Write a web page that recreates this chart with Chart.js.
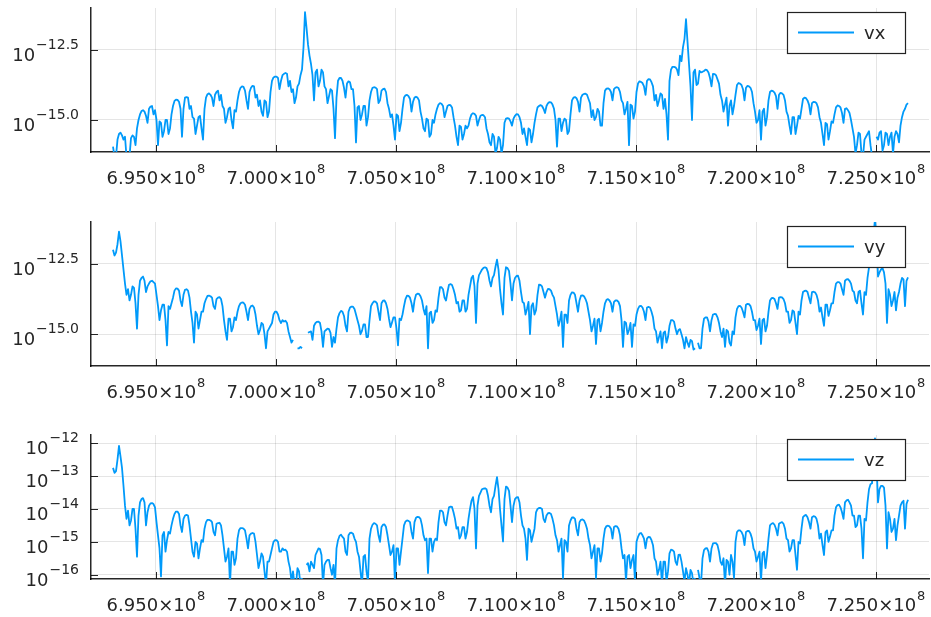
<!DOCTYPE html>
<html><head><meta charset="utf-8">
<script src="https://cdn.jsdelivr.net/npm/chart.js@4.4.1/dist/chart.umd.min.js"></script>
<style>
html,body{margin:0;padding:0;background:#fff;width:931px;height:617px;overflow:hidden;}
canvas{position:absolute;left:0;}
</style></head><body>
<canvas id="p1" width="931" height="190" style="top:0px"></canvas>
<canvas id="p2" width="931" height="190" style="top:214px"></canvas>
<canvas id="p3" width="931" height="190" style="top:427px"></canvas>
<script>
// time axis (sample start and step)
const xStart = 6.9320833e8;
const xStep = 6.25e4;
const xTicks = [6.95e8, 7.0e8, 7.05e8, 7.1e8, 7.15e8, 7.2e8, 7.25e8];
const xTickLabels = ['6.950', '7.000', '7.050', '7.100', '7.150', '7.200', '7.250'];
const xTickExp = '8';

// log10 of each series' values
const vxLog = [
-15.95,-16.3,-16.3,-15.7,-15.5,-15.45,-15.55,-15.7,-15.6,-16.3,-16.5,-16.3,-15.65,-15.55,-15.6,-15.9,-15.3,-15.0,-14.8,-14.68,
-14.65,-14.7,-14.85,-15.1,-14.6,-14.52,-14.5,-14.8,-14.65,-15.0,-15.9,-15.05,-15.1,-15.6,-15.4,-15.0,-15.0,-15.5,-15.3,-14.8,
-14.5,-14.32,-14.27,-14.28,-14.35,-14.6,-15.6,-14.6,-14.2,-14.18,-14.2,-14.6,-14.5,-14.9,-14.95,-15.5,-15.2,-14.9,-14.85,-15.3,
-15.7,-14.6,-14.2,-14.08,-14.05,-14.1,-14.2,-14.5,-14.1,-14.0,-13.95,-14.3,-14.1,-14.5,-14.6,-15.1,-14.9,-14.6,-14.55,-15.0,
-15.3,-14.65,-14.7,-14.3,-14.0,-13.85,-13.8,-13.82,-13.95,-14.3,-14.6,-14.0,-13.85,-13.78,-13.8,-14.2,-14.1,-14.5,-14.3,-14.7,
-14.85,-14.3,-14.35,-14.9,-14.7,-14.0,-13.6,-13.48,-13.45,-13.45,-13.5,-13.9,-13.6,-13.4,-13.35,-13.32,-13.35,-13.8,-13.6,-14.0,
-13.9,-14.4,-14.2,-13.8,-13.7,-13.4,-13.2,-12.4,-11.15,-11.7,-12.3,-12.7,-13.0,-13.4,-14.3,-13.3,-13.2,-13.8,-13.6,-13.2,
-13.3,-13.8,-13.9,-14.4,-14.15,-13.9,-13.95,-14.6,-15.65,-14.2,-13.6,-13.5,-13.5,-13.6,-13.85,-14.2,-13.7,-13.62,-13.65,-13.9,
-13.9,-14.5,-15.8,-14.55,-14.5,-15.0,-14.8,-14.5,-14.5,-15.2,-14.9,-14.3,-14.0,-13.85,-13.83,-13.84,-13.9,-14.4,-14.3,-13.95,
-13.9,-13.88,-14.0,-14.4,-14.6,-14.9,-14.8,-15.2,-15.7,-14.8,-14.85,-15.4,-15.1,-14.6,-14.2,-14.12,-14.1,-14.15,-14.25,-14.7,
-14.35,-14.2,-14.17,-14.2,-14.3,-14.7,-14.95,-15.3,-15.4,-14.95,-15.0,-15.6,-15.5,-15.0,-15.1,-14.8,-14.6,-14.45,-14.4,-14.42,
-14.5,-14.9,-14.7,-14.5,-14.46,-14.47,-14.55,-14.9,-15.2,-15.6,-15.9,-15.2,-15.25,-15.7,-15.5,-15.2,-15.3,-15.2,-14.95,-14.8,
-14.76,-14.78,-14.85,-15.2,-15.0,-14.85,-14.82,-14.83,-14.9,-15.3,-15.5,-15.8,-15.9,-15.5,-15.6,-16.2,-16.0,-15.6,-15.7,-16.2,
-15.9,-15.1,-14.95,-14.93,-14.95,-15.05,-15.2,-14.95,-14.85,-14.79,-14.8,-14.9,-15.1,-15.5,-15.3,-15.6,-15.9,-15.3,-15.35,-15.8,
-15.5,-15.1,-14.8,-14.55,-14.5,-14.47,-14.5,-14.6,-14.75,-14.5,-14.4,-14.36,-14.37,-14.45,-14.6,-15.0,-15.95,-14.95,-14.95,-15.4,
-15.1,-14.95,-15.0,-15.5,-15.4,-14.8,-14.3,-14.2,-14.18,-14.22,-14.35,-14.7,-14.2,-14.1,-14.07,-14.06,-14.1,-14.25,-14.4,-14.9,
-14.65,-15.0,-14.9,-14.6,-14.7,-15.2,-15.2,-14.4,-13.95,-13.88,-13.87,-13.9,-14.0,-14.3,-13.9,-13.84,-13.83,-13.86,-14.0,-14.3,
-14.4,-14.8,-14.6,-14.35,-15.9,-14.45,-14.5,-14.95,-14.7,-14.0,-13.7,-13.62,-13.64,-13.68,-13.8,-14.1,-13.6,-13.54,-13.55,-13.65,
-13.8,-14.3,-14.1,-14.5,-14.3,-14.05,-14.1,-14.6,-14.25,-14.8,-15.7,-13.6,-13.2,-13.1,-13.1,-13.12,-13.2,-13.4,-12.7,-12.9,
-12.4,-12.1,-11.4,-12.2,-13.0,-13.8,-15.0,-13.3,-13.2,-13.75,-13.7,-13.25,-13.3,-13.28,-13.25,-13.2,-13.22,-13.3,-13.5,-13.8,
-13.35,-13.36,-13.4,-13.55,-13.7,-14.1,-14.3,-14.7,-14.45,-14.2,-15.2,-14.5,-14.3,-14.8,-14.5,-14.1,-13.75,-13.68,-13.7,-13.75,
-13.9,-14.3,-13.85,-13.78,-13.8,-13.85,-14.0,-14.4,-14.7,-15.1,-15.0,-14.65,-15.7,-14.7,-14.6,-15.2,-14.9,-14.3,-14.0,-13.95,
-13.97,-14.02,-14.15,-14.6,-14.1,-14.03,-14.05,-14.1,-14.3,-14.7,-14.85,-15.2,-15.5,-14.9,-14.9,-15.5,-15.2,-14.85,-14.95,-14.6,
-14.25,-14.2,-14.22,-14.3,-14.45,-14.8,-14.4,-14.35,-14.36,-14.4,-14.55,-14.9,-15.1,-15.5,-15.9,-15.1,-15.15,-15.7,-15.4,-15.05,
-15.1,-14.8,-14.55,-14.48,-14.5,-14.55,-14.75,-15.1,-14.6,-14.58,-14.65,-14.75,-15.0,-15.3,-15.6,-16.2,-15.9,-15.45,-15.5,-16.2,
-16.3,-15.7,-15.6,-15.5,-15.4,-15.9,-16.3,null,null,-15.6,-15.7,-15.45,-15.4,-16.1,-15.9,-15.45,-15.5,-15.9,-15.6,-15.45,
-16.2,-15.6,-15.4,-15.5,-15.8,-15.2,-14.9,-14.7,-14.6,-14.45,-14.4
];
const vyLog = [
-12.0,-12.2,-12.1,-11.8,-11.35,-11.7,-12.2,-12.7,-13.2,-13.6,-13.4,-13.8,-13.6,-13.3,-13.35,-13.9,-14.8,-13.6,-13.1,-13.0,
-12.95,-13.1,-13.5,-13.3,-13.2,-13.12,-13.1,-13.15,-13.2,-13.6,-14.0,-14.5,-14.15,-13.95,-13.95,-14.5,-15.4,-14.0,-14.1,-13.9,
-13.7,-13.45,-13.37,-13.38,-13.45,-13.8,-14.0,-13.6,-13.42,-13.4,-13.45,-13.7,-14.2,-14.6,-15.3,-14.2,-14.3,-14.8,-14.5,-14.2,
-14.2,-13.9,-13.75,-13.64,-13.63,-13.65,-13.7,-14.0,-14.1,-13.75,-13.7,-13.68,-13.75,-14.0,-14.5,-14.9,-15.2,-14.45,-14.45,-14.9,
-14.75,-14.4,-14.5,-14.2,-14.0,-13.9,-13.87,-13.88,-13.95,-14.2,-14.5,-14.1,-14.0,-13.98,-14.05,-14.3,-14.7,-15.0,-14.85,-14.6,
-14.65,-15.0,-15.5,-14.9,-14.8,-14.7,-14.6,-14.3,-14.2,-14.2,-14.3,-14.5,-14.6,-14.5,-14.55,-14.52,-14.6,-14.9,-15.1,-15.3,
-15.2,null,null,-15.5,-15.5,-15.45,-15.5,null,null,null,-14.95,-14.92,-14.9,-15.2,-14.7,-14.6,-14.56,-14.55,-14.6,-14.9,
-15.45,-14.9,-14.85,-14.8,-14.82,-14.95,-15.45,-15.1,-15.3,-14.8,-14.4,-14.25,-14.17,-14.2,-14.35,-14.7,-14.9,-14.2,-14.05,-14.02,
-14.02,-14.1,-14.3,-14.5,-14.7,-15.0,-14.88,-14.65,-14.65,-15.1,-15.1,-14.5,-14.0,-13.9,-13.83,-13.84,-13.9,-14.2,-14.5,-13.9,
-13.81,-13.8,-13.9,-14.1,-14.45,-14.75,-14.58,-14.4,-14.4,-14.8,-15.4,-14.45,-14.5,-14.3,-14.0,-13.75,-13.63,-13.64,-13.7,-13.9,
-14.2,-13.8,-13.6,-13.56,-13.57,-13.65,-13.8,-14.1,-14.3,-14.0,-15.5,-14.25,-14.2,-14.6,-14.5,-14.15,-14.2,-13.7,-13.33,-13.33,
-13.4,-13.7,-13.8,-13.5,-13.24,-13.22,-13.25,-13.4,-13.6,-13.9,-13.85,-14.2,-14.15,-13.8,-13.8,-14.2,-14.1,-13.6,-13.3,-13.0,
-12.92,-13.3,-14.6,-13.2,-12.9,-12.8,-12.7,-12.64,-12.62,-12.65,-12.8,-13.1,-13.3,-13.0,-12.9,-12.6,-12.35,-12.7,-13.4,-13.9,
-14.3,-13.0,-12.62,-12.65,-12.75,-13.2,-13.8,-13.2,-13.0,-12.93,-12.92,-13.1,-13.5,-13.85,-13.9,-14.3,-14.1,-13.85,-15.0,-14.0,
-13.9,-14.3,-14.15,-13.6,-13.24,-13.25,-13.3,-13.5,-13.7,-13.5,-13.39,-13.4,-13.45,-13.6,-13.7,-14.0,-14.3,-14.7,-14.5,-14.2,
-15.45,-14.3,-14.3,-14.6,-13.8,-13.6,-13.51,-13.52,-13.6,-13.9,-14.2,-13.8,-13.63,-13.62,-13.65,-13.75,-13.9,-14.2,-14.5,-14.9,
-14.7,-14.45,-15.35,-14.5,-14.45,-14.9,-14.6,-14.2,-13.9,-13.78,-13.75,-13.8,-13.9,-14.2,-13.85,-13.8,-13.8,-13.85,-14.0,-14.5,
-15.45,-14.55,-14.6,-15.0,-14.85,-14.6,-15.45,-14.65,-14.7,-14.3,-14.1,-14.0,-13.99,-14.05,-14.2,-14.5,-14.05,-14.03,-14.05,-14.2,
-14.4,-14.8,-14.9,-15.3,-15.1,-14.9,-15.5,-14.95,-14.9,-15.3,-15.1,-14.7,-14.5,-14.5,-14.55,-14.8,-15.0,-14.85,-14.82,-15.0,
-15.2,-15.5,-15.1,-15.3,-15.45,-15.2,-15.25,-15.55,-15.5,null,-15.3,-15.5,-15.5,-14.8,-14.45,-14.4,-14.4,-14.55,-14.9,-14.5,
-14.3,-14.28,-14.29,-14.4,-14.6,-14.9,-15.1,-14.8,-15.45,-14.85,-14.9,-15.3,-15.4,-14.9,-15.0,-14.4,-14.1,-14.0,-13.99,-14.05,
-14.2,-14.4,-13.95,-13.92,-13.93,-14.0,-14.2,-14.5,-14.5,-14.85,-14.7,-14.45,-15.35,-14.5,-14.45,-14.9,-14.7,-14.2,-13.8,-13.72,
-13.71,-13.75,-13.9,-14.1,-13.7,-13.68,-13.69,-13.75,-13.9,-14.2,-14.2,-14.6,-14.5,-14.15,-14.2,-14.6,-15.0,-14.2,-14.3,-13.8,
-13.5,-13.46,-13.45,-13.5,-13.7,-13.9,-13.5,-13.49,-13.51,-13.6,-13.8,-14.2,-14.05,-14.4,-14.7,-13.95,-13.95,-14.35,-14.15,-13.9,
-13.9,-13.5,-13.2,-13.15,-13.15,-13.2,-13.4,-13.6,-13.1,-13.05,-13.04,-13.1,-13.2,-13.45,-13.5,-13.8,-13.9,-13.5,-13.45,-13.9,
-14.3,-13.5,-13.6,-13.0,-12.62,-12.45,-12.2,-11.5,-10.9,-11.6,-12.95,-12.8,-12.7,-12.65,-12.8,-13.2,-14.6,-13.4,-13.6,-14.0,
-13.8,-13.5,-14.15,-13.7,-13.5,-13.2,-13.0,-13.05,-14.0,-13.1,-12.98
];
const vzLog = [
-12.75,-12.9,-12.85,-12.5,-12.08,-12.4,-12.75,-13.3,-13.9,-14.3,-14.05,-14.5,-14.35,-14.0,-14.0,-14.6,-15.45,-14.2,-13.8,-13.7,
-13.67,-13.8,-14.5,-14.1,-13.9,-13.83,-13.82,-13.85,-13.95,-14.4,-14.8,-15.2,-16.05,-14.8,-14.7,-15.3,-14.95,-14.7,-14.75,-14.5,
-14.3,-14.15,-14.08,-14.08,-14.15,-14.5,-14.7,-14.3,-14.2,-14.18,-14.2,-14.5,-14.9,-15.3,-15.45,-15.0,-15.05,-15.5,-15.2,-14.95,
-15.0,-14.6,-14.4,-14.33,-14.33,-14.35,-14.4,-14.7,-14.8,-14.45,-14.43,-14.42,-14.5,-14.8,-15.2,-15.6,-15.45,-15.2,-16.3,-15.3,
-15.3,-15.7,-15.5,-14.9,-14.65,-14.58,-14.58,-14.6,-14.65,-14.9,-15.2,-14.8,-14.75,-14.73,-14.75,-15.0,-15.4,-15.8,-15.6,-15.35,
-15.45,-15.9,-16.3,-15.6,-15.6,-15.4,-15.2,-15.0,-14.95,-14.95,-15.0,-15.3,-15.3,-15.2,-15.25,-15.24,-15.3,-15.6,-15.8,-16.2,
-15.9,-16.3,-16.3,-15.8,-15.9,-16.3,-16.1,null,null,-15.7,-15.65,-15.9,-15.6,-15.7,-15.8,-15.4,-15.3,-15.2,-15.22,-15.4,
-16.3,-15.7,-15.6,-15.55,-15.55,-15.8,-16.0,-15.7,-16.3,-15.2,-14.95,-14.82,-14.78,-14.85,-14.9,-15.3,-15.4,-14.8,-14.73,-14.72,
-14.75,-14.9,-15.0,-15.3,-15.45,-15.9,-16.3,-15.45,-15.4,-15.9,-16.2,-14.9,-14.6,-14.48,-14.43,-14.45,-14.5,-14.8,-15.0,-14.55,
-14.48,-14.47,-14.55,-14.8,-15.1,-15.4,-15.3,-15.1,-16.3,-15.2,-15.2,-15.7,-15.3,-14.9,-14.5,-14.38,-14.35,-14.36,-14.4,-14.7,
-14.9,-14.4,-14.27,-14.24,-14.25,-14.3,-14.5,-14.8,-14.95,-14.9,-15.95,-14.9,-14.9,-15.3,-15.0,-14.9,-14.95,-14.4,-14.05,-14.05,
-14.1,-14.4,-14.5,-14.2,-13.95,-13.93,-13.94,-14.1,-14.3,-14.6,-14.55,-14.9,-14.8,-14.55,-14.55,-14.9,-14.7,-14.3,-14.0,-13.75,
-13.64,-14.0,-15.2,-13.9,-13.6,-13.5,-13.4,-13.38,-13.37,-13.4,-13.6,-13.9,-14.1,-13.7,-13.6,-13.3,-13.03,-13.4,-14.0,-14.5,
-14.99,-13.7,-13.32,-13.35,-13.45,-13.9,-14.4,-13.9,-13.7,-13.65,-13.64,-13.8,-14.2,-14.5,-14.6,-14.9,-15.55,-14.6,-14.65,-15.0,
-14.8,-14.6,-14.1,-14.0,-13.97,-13.97,-14.0,-14.3,-14.4,-14.2,-14.13,-14.12,-14.15,-14.3,-14.5,-14.8,-14.95,-15.3,-15.1,-14.9,
-16.1,-14.95,-15.0,-15.3,-14.5,-14.35,-14.26,-14.26,-14.3,-14.6,-14.8,-14.4,-14.33,-14.32,-14.35,-14.45,-14.6,-14.9,-15.1,-15.5,
-15.3,-15.1,-16.1,-15.2,-15.2,-15.6,-15.35,-14.9,-14.6,-14.52,-14.51,-14.53,-14.6,-14.9,-14.55,-14.52,-14.53,-14.6,-14.8,-15.2,
-15.5,-15.4,-16.2,-15.45,-15.4,-15.8,-15.55,-15.4,-16.2,-15.0,-14.85,-14.75,-14.73,-14.8,-14.9,-15.2,-14.9,-14.85,-14.86,-14.95,
-15.1,-15.5,-15.6,-16.0,-15.85,-15.6,-16.3,-15.6,-15.6,-16.2,-15.9,-15.35,-15.24,-15.25,-15.3,-15.6,-15.7,-15.4,-15.39,-15.6,
-15.9,-16.2,-15.8,-16.0,-16.3,-15.85,-15.95,-16.3,-16.1,null,-15.85,-16.1,-16.3,-15.5,-15.25,-15.2,-15.19,-15.3,-15.6,-15.2,
-15.05,-15.04,-15.04,-15.1,-15.3,-15.6,-15.7,-15.5,-16.3,-15.55,-15.6,-16.0,-15.4,-15.6,-16.1,-15.0,-14.7,-14.65,-14.65,-14.7,
-14.8,-15.1,-14.7,-14.67,-14.67,-14.75,-14.9,-15.2,-15.3,-15.6,-15.45,-15.3,-16.2,-15.35,-15.3,-15.8,-15.4,-14.9,-14.5,-14.45,
-14.43,-14.48,-14.6,-14.8,-14.45,-14.42,-14.4,-14.45,-14.6,-14.9,-14.95,-15.3,-15.2,-14.95,-14.95,-15.4,-15.85,-15.0,-15.05,-14.6,
-14.25,-14.2,-14.18,-14.25,-14.4,-14.6,-14.25,-14.22,-14.23,-14.3,-14.5,-14.9,-14.75,-15.1,-15.4,-14.7,-14.65,-15.0,-14.84,-14.65,
-14.65,-14.2,-13.95,-13.88,-13.87,-13.95,-14.1,-14.3,-13.8,-13.74,-13.72,-13.8,-13.9,-14.2,-14.2,-14.55,-14.5,-14.2,-14.2,-14.6,
-15.5,-14.3,-14.35,-13.8,-13.4,-13.25,-13.22,-12.5,-11.85,-12.6,-13.8,-13.4,-13.3,-13.3,-13.35,-13.9,-15.2,-14.1,-14.3,-14.7,
-14.6,-14.3,-14.95,-14.5,-14.2,-13.9,-13.8,-13.75,-14.6,-13.85,-13.72
];

// y tick exponents and labels
const yTicksVxVy = [-15, -12.5];
const yTickLabelsVxVy = ['\u221215.0', '\u221212.5'];
const yTicksVz = [-16, -15, -14, -13, -12];
const yTickLabelsVz = ['\u221216', '\u221215', '\u221214', '\u221213', '\u221212'];

const LINE = '#009AFA';
const FONT = "'DejaVu Sans', sans-serif";
const TXT = '#262626';

const axisDeco = {
  id: 'axisDeco',
  afterDraw(chart) {
    const o = chart.options.plugins.axisDeco;
    const ctx = chart.ctx, a = chart.chartArea;
    const xs = chart.scales.x, ys = chart.scales.y;
    ctx.save();
    ctx.strokeStyle = 'rgba(0,0,0,0.85)';
    ctx.lineWidth = 1;
    ctx.fillStyle = TXT;
    ctx.textAlign = 'left';
    ctx.textBaseline = 'alphabetic';
    xTicks.forEach((v, i) => {
      const px = xs.getPixelForValue(v);
      const p = Math.round(px) + 0.5;
      ctx.beginPath(); ctx.moveTo(p, a.bottom); ctx.lineTo(p, a.bottom - 7); ctx.stroke();
      const main = xTickLabels[i] + '\u00d710';
      ctx.font = '18px ' + FONT;
      const wm = ctx.measureText(main).width;
      ctx.font = '13px ' + FONT;
      const ws = ctx.measureText(xTickExp).width;
      const x0 = px - (wm + ws + 1) / 2;
      const base = a.bottom + 32;
      ctx.font = '18px ' + FONT;
      ctx.fillText(main, x0, base);
      ctx.font = '13px ' + FONT;
      ctx.fillText(xTickExp, x0 + wm + 1, base - 11);
    });
    o.yTicks.forEach((e, i) => {
      const py = ys.getPixelForValue(Math.pow(10, e));
      const p = Math.round(py) + 0.5;
      ctx.beginPath(); ctx.moveTo(a.left, p); ctx.lineTo(a.left + 7, p); ctx.stroke();
      const sup = o.yLabels[i];
      ctx.font = '14px ' + FONT;
      const ws = ctx.measureText(sup).width;
      ctx.font = '18px ' + FONT;
      const wm = ctx.measureText('10').width;
      const right = a.left - 12;
      const x0 = right - ws - wm - 1;
      ctx.fillText('10', x0, py + 11);
      ctx.font = '14px ' + FONT;
      ctx.fillText(sup, x0 + wm + 1, py - 1);
    });
    // legend
    const bw = 118, bh = 41;
    const bx = a.right - 142, by = a.top + 4;
    ctx.fillStyle = '#fff';
    ctx.fillRect(bx, by, bw, bh);
    ctx.strokeStyle = '#222';
    ctx.lineWidth = 1.2;
    ctx.strokeRect(bx + 0.5, by + 0.5, bw, bh);
    const cy = by + bh / 2;
    ctx.strokeStyle = LINE;
    ctx.lineWidth = 1.8;
    ctx.beginPath(); ctx.moveTo(bx + 11, cy); ctx.lineTo(bx + 67, cy); ctx.stroke();
    ctx.fillStyle = TXT;
    ctx.font = '18px ' + FONT;
    ctx.fillText(o.legend, bx + 77, cy + 6.5);
    ctx.restore();
  }
};

function toPoints(logs) {
  return logs.map((e, i) => ({ x: xStart + i * xStep, y: e === null ? null : Math.pow(10, e) }));
}

function makeChart(id, logs, name, yMin, yMax, yT, yL) {
  return new Chart(document.getElementById(id), {
    type: 'line',
    data: {
      datasets: [{
        label: name,
        data: toPoints(logs),
        borderColor: LINE,
        borderWidth: 1.8,
        borderJoinStyle: 'round',
        pointRadius: 0,
        spanGaps: false,
        tension: 0,
        fill: false
      }]
    },
    options: {
      responsive: false,
      animation: false,
      devicePixelRatio: 1,
      parsing: false,
      normalized: true,
      layout: { padding: { top: 8, right: 2, left: 0, bottom: 0 } },
      plugins: {
        legend: { display: false },
        tooltip: { enabled: false },
        axisDeco: { yTicks: yT, yLabels: yL, legend: name }
      },
      scales: {
        x: {
          type: 'linear',
          min: 6.922917e8,
          max: 7.272083e8,
          afterBuildTicks: s => { s.ticks = xTicks.map(v => ({ value: v })); },
          afterFit: s => { s.height = 38; },
          ticks: { display: false },
          grid: { color: 'rgba(0,0,0,0.1)', lineWidth: 1, drawTicks: false },
          border: { display: true, color: 'rgba(0,0,0,0.85)', width: 1.5 }
        },
        y: {
          type: 'logarithmic',
          min: Math.pow(10, yMin),
          max: Math.pow(10, yMax),
          afterBuildTicks: s => { s.ticks = yT.map(e => ({ value: Math.pow(10, e) })); },
          afterFit: s => { s.width = 91; },
          ticks: { display: false },
          grid: { color: 'rgba(0,0,0,0.1)', lineWidth: 1, drawTicks: false },
          border: { display: true, color: 'rgba(0,0,0,0.85)', width: 1.5 }
        }
      }
    },
    plugins: [axisDeco]
  });
}

makeChart('p1', vxLog, 'vx', -16.143, -11.0, yTicksVxVy, yTickLabelsVxVy);
makeChart('p2', vyLog, 'vy', -16.13, -11.01, yTicksVxVy, yTickLabelsVxVy);
makeChart('p3', vzLog, 'vz', -16.13, -11.75, yTicksVz, yTickLabelsVz);
</script>
</body></html>
